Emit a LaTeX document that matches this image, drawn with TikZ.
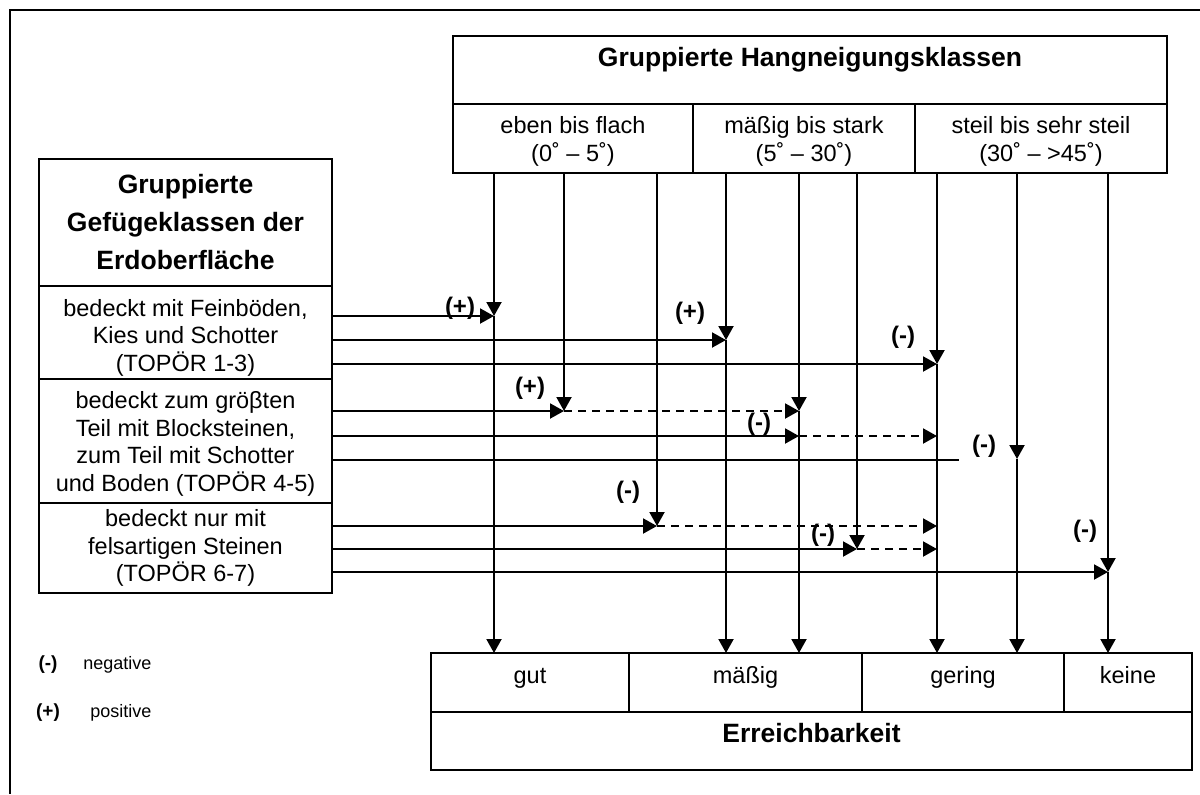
\documentclass[tikz,border=0pt]{standalone}
\usepackage{fontspec}
\setmainfont{Liberation Sans}
\usetikzlibrary{arrows.meta,calc}

\tikzset{
  cell/.style={draw,line width=1pt,inner sep=0pt,outer sep=0pt,anchor=north west},
  txt/.style={font=\fontsize{11.75}{13.75}\selectfont,align=center,inner sep=0pt},
  head/.style={font=\bfseries\fontsize{13.25}{19}\selectfont,align=center,inner sep=0pt},
  sign/.style={font=\bfseries\fontsize{12}{14}\selectfont,inner sep=0pt},
  note/.style={font=\fontsize{9}{11}\selectfont,inner sep=0pt,anchor=west},
  link/.style={line width=1pt,-{Triangle[length=7pt,width=7.5pt]}},
  plain/.style={line width=1pt},
  weak/.style={line width=1pt,dash pattern=on 4pt off 3pt,-{Triangle[length=7pt,width=7.5pt]}},
}

\begin{document}
\begin{tikzpicture}[x=0.5pt,y=-0.5pt]
  \useasboundingbox (0,0) rectangle (1200,794);
  \draw[line width=1pt] (1200,10) -- (10,10) -- (10,794);

  \node[cell,minimum width=357pt,minimum height=34pt] (hang) at (453,36) {};
  \node[head,anchor=base] (hangT) at (810,66) {Gruppierte Hangneigungsklassen};
  \node[cell,minimum width=120pt,minimum height=34.5pt] (eben) at (453,104) {};
  \node[cell,minimum width=111pt,minimum height=34.5pt] (mittel) at (693,104) {};
  \node[cell,minimum width=126pt,minimum height=34.5pt] (steil) at (915,104) {};
  \node[txt] (ebenT) at ($(eben)+(0,3)$) {eben bis flach\\(0˚ – 5˚)};
  \node[txt] (mittelT) at ($(mittel)+(0,3)$) {mäßig bis stark\\(5˚ – 30˚)};
  \node[txt] (steilT) at ($(steil)+(0,3)$) {steil bis sehr steil\\(30˚ – >45˚)};

  \node[cell,head,minimum width=146.5pt,minimum height=63.5pt] (gefuege) at (39,159)
    {Gruppierte\\Gefügeklassen der\\Erdoberfläche};
  \node[cell,minimum width=146.5pt,minimum height=46.5pt] (feinb) at (39,286) {};
  \node[cell,minimum width=146.5pt,minimum height=62pt] (block) at (39,379) {};
  \node[cell,minimum width=146.5pt,minimum height=45pt] (fels) at (39,503) {};
  \node[txt] (feinbT) at ($(feinb)+(0,5)$)
    {bedeckt mit Feinböden,\\Kies und Schotter\\(TOPÖR 1-3)};
  \node[txt] (blockT) at ($(block)+(0,3)$)
    {bedeckt zum gröβten\\Teil mit Blocksteinen,\\zum Teil mit Schotter\\und Boden (TOPÖR 4-5)};
  \node[txt] (felsT) at (fels)
    {bedeckt nur mit\\felsartigen Steinen\\(TOPÖR 6-7)};

  \node[cell,minimum width=99pt,minimum height=29.5pt] (gut) at (431,653) {};
  \node[cell,minimum width=116.5pt,minimum height=29.5pt] (maessig) at (629,653) {};
  \node[cell,minimum width=101pt,minimum height=29.5pt] (gering) at (862,653) {};
  \node[cell,minimum width=64pt,minimum height=29.5pt] (keine) at (1064,653) {};
  \node[cell,minimum width=380.5pt,minimum height=29pt] (erreich) at (431,712) {};
  \foreach \c/\t in {gut/gut,maessig/mäßig,gering/gering,keine/keine}
    \node[txt,anchor=base] (\c T) at (\c |- 0,683) {\t};
  \node[head,anchor=base] (erreichT) at (erreich |- 0,742) {Erreichbarkeit};

  \coordinate (a1) at (494,316);
  \coordinate (a2) at (726,340);
  \coordinate (a3) at (937,364);
  \coordinate (b1) at (564,411);
  \coordinate (b2) at (799,411);
  \coordinate (b3) at (799,436);
  \coordinate (b4) at (937,436);
  \coordinate (b5) at (959,460);
  \coordinate (b6) at (1017,459);
  \coordinate (c1) at (657,526);
  \coordinate (c2) at (937,526);
  \coordinate (c3) at (857,549);
  \coordinate (c4) at (937,549);
  \coordinate (c5) at (1108,572);

  \foreach \p/\s/\e in {a1/eben/gut,a2/mittel/maessig,b2/mittel/maessig,
      a3/steil/gering,b6/steil/gering,c5/steil/keine} {
    \draw[link] (\p |- \s.south) -- (\p);
    \draw[link] (\p) -- (\p |- \e.north);
  }
  \foreach \p/\s in {b1/eben,c1/eben,c3/mittel}
    \draw[link] (\p |- \s.south) -- (\p);

  \foreach \p in {a1,a2,a3} \draw[link] (feinb.east |- \p) -- (\p);
  \foreach \p in {b1,b3} \draw[link] (block.east |- \p) -- (\p);
  \draw[plain] (block.east |- b5) -- (b5);
  \foreach \p in {c1,c3,c5} \draw[link] (fels.east |- \p) -- (\p);
  \draw[weak] (b1) -- (b2);
  \draw[weak] (b3) -- (b4);
  \draw[weak] (c1) -- (c2);
  \draw[weak] (c3) -- (c4);

  \node[sign] (s1) at (460,308) {(+)};
  \node[sign] (s2) at (690,313) {(+)};
  \node[sign] (s3) at (903,337) {(-)};
  \node[sign] (s4) at (530,388) {(+)};
  \node[sign] (s5) at (759,424) {(-)};
  \node[sign] (s6) at (984,446) {(-)};
  \node[sign] (s7) at (628,492) {(-)};
  \node[sign] (s8) at (823,535) {(-)};
  \node[sign] (s9) at (1085,531) {(-)};

  \node[sign,font=\bfseries\fontsize{9.5}{11}\selectfont] (neg) at (48,665) {(-)};
  \node[note] (negT) at (83,665) {negative};
  \node[sign,font=\bfseries\fontsize{9.5}{11}\selectfont] (pos) at (48,713) {(+)};
  \node[note] (posT) at (90,713) {positive};
\end{tikzpicture}
\end{document}
